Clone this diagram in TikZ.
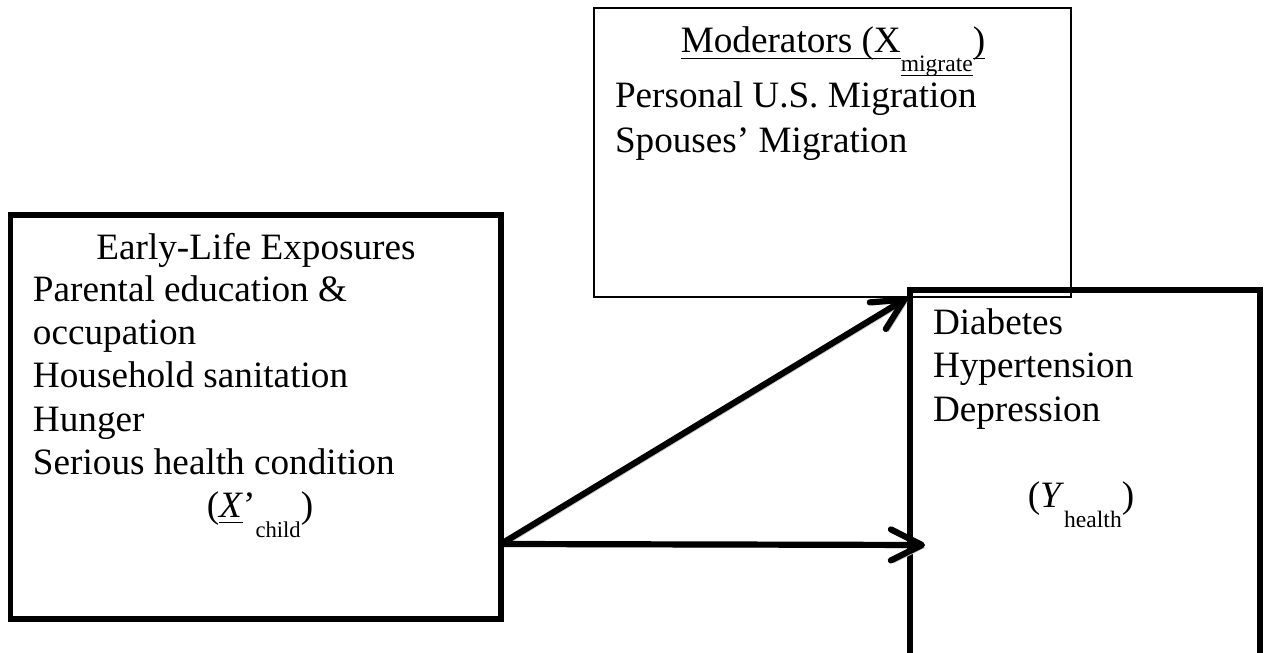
\documentclass[tikz,border=0pt]{standalone}
\usepackage{fontspec}
\setmainfont{Liberation Serif}
\usetikzlibrary{arrows.meta}
\newlength\pxu
\setlength\pxu{0.3226pt}
\newcommand\myul[2][-2pt]{\setbox0\hbox{#2}\rlap{\rule[#1]{\wd0}{0.45pt}}\box0}
\begin{document}
\begin{tikzpicture}[x=0.3226pt, y=-0.3226pt,
  thickbox/.style={draw, line width=1.75pt, inner sep=0pt, outer sep=0pt, anchor=north west},
  thinbox/.style={draw, line width=0.75pt, inner sep=0pt, outer sep=0pt, anchor=north west},
  txt/.style={inner sep=0pt, outer sep=0pt, font=\fontsize{12}{13.8}\selectfont},
  conn/.style={line width=2pt, line cap=round,
    -{Straight Barb[length=10pt,width=10pt,round]},
    preaction={draw=gray!45, transform canvas={xshift=0.8pt,yshift=-0.8pt}}}
]
\useasboundingbox (0,0) rectangle (1265,653);

% boxes
\node[thinbox, minimum width=477*\pxu, minimum height=289*\pxu] (mod) at (594,8) {};
\node[thickbox, minimum width=490.5*\pxu, minimum height=404*\pxu] (early) at (10.5,215) {};
\node[thickbox, minimum width=350*\pxu, minimum height=375*\pxu] (health) at (910,290) {};

% moderators text
\node[txt, anchor=base] (modtitle) at (833,53)
  {\myul{Moderators (X}\raisebox{-6pt}{\fontsize{7.6}{9}\selectfont\myul[-1.4pt]{migrate}}\myul{)}};
\node[txt, anchor=base west] (m1) at (615,108) {Personal U.S. Migration};
\node[txt, anchor=base west] (m2) at (615,153) {Spouses’ Migration};

% early-life text
\node[txt, anchor=base] (e0) at (256,260) {Early-Life Exposures};
\node[txt, anchor=base west] (e1) at (33,302) {Parental education \&};
\node[txt, anchor=base west] (e2) at (33,345) {occupation};
\node[txt, anchor=base west] (e3) at (33,388) {Household sanitation};
\node[txt, anchor=base west] (e4) at (33,432) {Hunger};
\node[txt, anchor=base west] (e5) at (33,475) {Serious health condition};
\node[txt, anchor=base] (e6) at (260,518)
  {(\myul[-1.6pt]{\textit{X}}’\raisebox{-6.2pt}{\fontsize{7.3}{9}\selectfont child})};

% health text
\node[txt, anchor=base west] (h1) at (933,335) {Diabetes};
\node[txt, anchor=base west] (h2) at (933,378) {Hypertension};
\node[txt, anchor=base west] (h3) at (933,422) {Depression};
\node[txt, anchor=base] (h4) at (1081,508)
  {(\textit{Y}\raisebox{-6.2pt}{\fontsize{7.6}{9}\selectfont health})};

% connectors
\coordinate (s) at (501,544);
\coordinate (t1) at (907,298);
\coordinate (t2) at (925,545);
\draw[conn] (s) -- (t1);
\draw[conn] (s) -- (t2);
\end{tikzpicture}
\end{document}
